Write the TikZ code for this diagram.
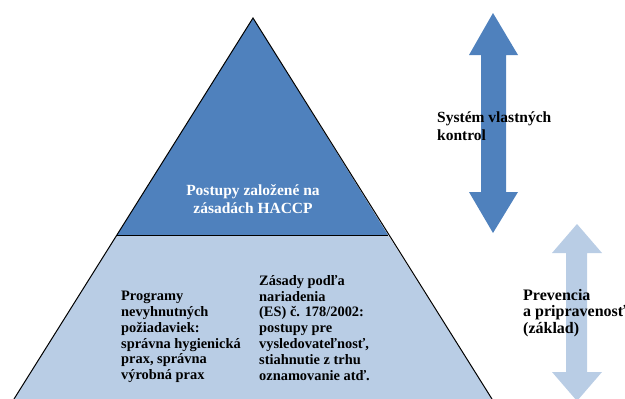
\documentclass[tikz,border=0pt]{standalone}
\usepackage{fontspec}
\setmainfont{Liberation Serif}
\definecolor{haccpblue}{RGB}{79,129,189}
\definecolor{baseblue}{RGB}{185,205,229}
\tikzset{
  label text/.style={font=\bfseries\fontsize{15.5}{18}\selectfont, align=left, inner sep=0pt, anchor=north west},
  base text/.style={font=\bfseries\fontsize{14.4}{15.8}\selectfont, align=left, inner sep=0pt, anchor=north west},
}
\begin{document}
\begin{tikzpicture}[x=1pt,y=-1pt]
  \useasboundingbox (0,0) rectangle (625,399);

  % pyramid: base part and top part
  \fill[baseblue] (117,235) -- (388,235) -- (492,399) -- (14,399) -- cycle;
  \fill[haccpblue] (253,18) -- (388,235) -- (117,235) -- cycle;
  \draw[line width=1pt] (14,399) -- (253,18) -- (492,399);
  \draw[line width=1pt] (117,235) -- (388,235);

  % double arrows
  \fill[haccpblue] (493,13) -- (518,55) -- (506,55) -- (506,192) -- (518,192)
    -- (493,233) -- (469,192) -- (481,192) -- (481,55) -- (469,55) -- cycle;
  \fill[baseblue] (577,224) -- (602,253) -- (587,253) -- (587,372) -- (602,372)
    -- (577,401) -- (552,372) -- (566,372) -- (566,253) -- (552,253) -- cycle;

  % texts
  \node[label text, text=white, align=center, anchor=north] (haccp) at (253,184)
    {Postupy založené na\\zásadách HACCP};
  \node[base text] (prog) at (121,291)
    {Programy\\nevyhnutných\\požiadaviek:\\správna hygienická\\prax, správna\\výrobná prax};
  \node[base text] (zasady) at (259,275)
    {Zásady podľa\\nariadenia\\(ES) č. 178/2002:\\postupy pre\\vysledovateľnosť,\\stiahnutie z trhu\\oznamovanie atď.};
  \node[label text] (kontrol) at (437,112) {Systém vlastných\\kontrol};
  \node[label text, font=\bfseries\fontsize{16}{16.5}\selectfont] (prevencia) at (523,289)
    {Prevencia\\a pripravenosť\\(základ)};
\end{tikzpicture}
\end{document}
